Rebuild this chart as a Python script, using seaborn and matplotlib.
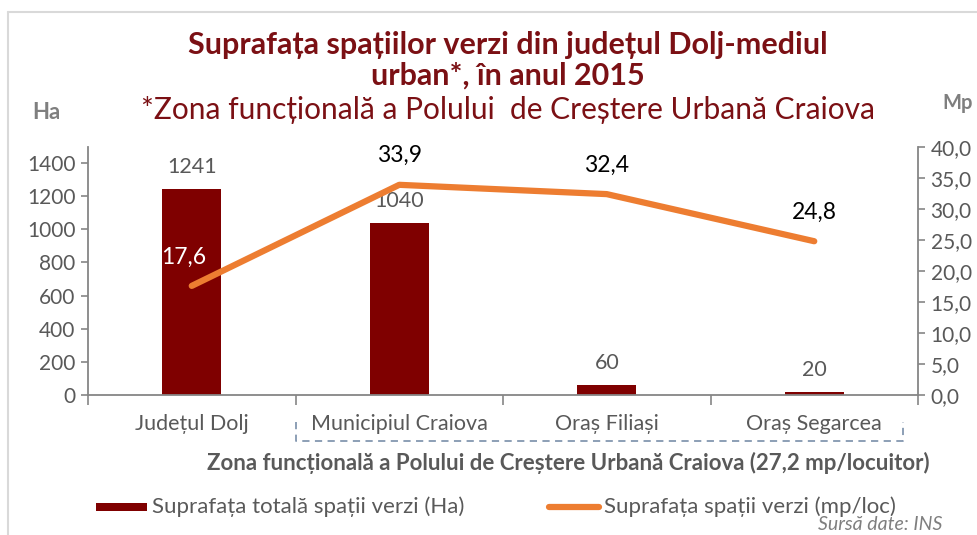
import matplotlib
matplotlib.use("Agg")
import matplotlib.pyplot as plt
from matplotlib.patches import Rectangle
from matplotlib.lines import Line2D
import seaborn as sns
import pandas as pd

# Data
categories = ["Județul Dolj", "Municipiul Craiova", "Oraș Filiași", "Oraș Segarcea"]
area_ha = [1241, 1040, 60, 20]
area_mp_per_loc = [17.6, 33.9, 32.4, 24.8]
left_ticks = [0, 200, 400, 600, 800, 1000, 1200, 1400]
right_ticks = [0, 5, 10, 15, 20, 25, 30, 35, 40]

sns.set_theme(style="white")
FONT = ["Lato", "DejaVu Sans"]
plt.rcParams["font.family"] = FONT

BAR = "#7F0000"
LINE = "#ED7D31"
GRAY = "#595959"
AXIS = "#868686"
TITLE = "#7B1014"

W, H = 977, 535
fig = plt.figure(figsize=(W / 100, H / 100), dpi=100)

def fx(px):
    return px / W

def fy(py):
    return 1 - py / H

ax = fig.add_axes([fx(88), fy(395), fx(918) - fx(88), fy(147) - fy(395)])

df = pd.DataFrame({"cat": categories, "ha": area_ha, "mp": area_mp_per_loc})
sns.barplot(data=df, x="cat", y="ha", ax=ax, color=BAR, width=0.285,
            saturation=1, edgecolor="none")
ax.set_ylim(0, 1497)
ax.set_xlim(-0.5, len(categories) - 0.5)
ax.set_yticks(left_ticks)
ax.set_yticklabels([str(t) for t in left_ticks])
ax.set_xlabel("")
ax.set_ylabel("")
ax.set_xticks([i - 0.5 for i in range(len(categories) + 1)], minor=False)
ax.set_xticklabels([])
ax.tick_params(axis="x", direction="out", length=7, width=1.2, color=AXIS, bottom=True)
ax.tick_params(axis="y", direction="out", length=5, width=1.2, color=AXIS, left=True,
               labelsize=15, labelcolor=GRAY, pad=4)
for s in ["top", "right"]:
    ax.spines[s].set_visible(False)
for s in ["left", "bottom"]:
    ax.spines[s].set_color(AXIS)
    ax.spines[s].set_linewidth(1.3)

for i, (c, v) in enumerate(zip(categories, area_ha)):
    ax.annotate(str(v), (i, v), xytext=(0, 22), textcoords="offset pixels",
                ha="center", va="center", fontsize=15.5, color=GRAY)
    ax.text(i, -0.115, c, transform=ax.get_xaxis_transform(), ha="center",
            va="center", fontsize=15.5, color=GRAY)

ax2 = ax.twinx()
sns.pointplot(x=categories, y=area_mp_per_loc, ax=ax2, color=LINE, markers="",
              linestyles="-", linewidth=4.5)
for ln in ax2.lines:
    ln.set_solid_capstyle("round")
    ln.set_solid_joinstyle("round")
ax2.set_xlim(-0.5, len(categories) - 0.5)
ax2.set_ylim(0, 40)
ax2.set_yticks(right_ticks)
ax2.set_yticklabels([f"{t:.1f}".replace(".", ",") for t in right_ticks])
ax2.tick_params(axis="y", direction="out", length=5, width=1.2, color=AXIS, right=True,
                labelsize=15, labelcolor=GRAY, pad=4)
for s in ["top", "left", "bottom"]:
    ax2.spines[s].set_visible(False)
ax2.spines["right"].set_color(AXIS)
ax2.spines["right"].set_linewidth(1.3)
ax2.set_ylabel("")

for i, v in enumerate(area_mp_per_loc):
    col = "white" if i == 0 else "black"
    dx = -8 if i == 0 else 0
    ax2.annotate(f"{v:.1f}".replace(".", ","), (i, v), xytext=(dx, 29),
                 textcoords="offset pixels", ha="center", va="center",
                 fontsize=16.5, color=col)

# Frame around the chart area
fig.add_artist(Line2D([fx(8), fx(8)], [fy(12), 0], color="#D9D9D9", lw=1.5,
                      transform=fig.transFigure))
fig.add_artist(Line2D([fx(8), 1], [fy(12), fy(12)], color="#D9D9D9", lw=1.5,
                      transform=fig.transFigure))

# Titles
fig.text(fx(508), fy(45), "Suprafața spațiilor verzi din județul Dolj-mediul",
         ha="center", va="center", fontsize=22, fontweight="bold", color=TITLE)
fig.text(fx(508), fy(76), "urban*, în anul 2015",
         ha="center", va="center", fontsize=22, fontweight="bold", color=TITLE)
fig.text(fx(508), fy(110), "*Zona funcțională a Polului  de Creștere Urbană Craiova",
         ha="center", va="center", fontsize=21.5, color=TITLE)

fig.text(fx(46), fy(112), "Ha", ha="center", va="center", fontsize=16,
         fontweight="bold", color="#7F7F7F")
fig.text(fx(942), fy(103), "Mp", ha="left", va="center", fontsize=14.5,
         fontweight="bold", color="#7F7F7F")

# Dashed bracket around the functional zone
zx0, zx1, zy0, zy1 = fx(296), fx(903), fy(422), fy(441)
fig.add_artist(Line2D([zx0, zx0, zx1, zx1], [zy0, zy1, zy1, zy0], color="#8497B0",
                      lw=1.3, ls=(0, (4, 3)), transform=fig.transFigure))
fig.text(fx(568), fy(463),
         "Zona funcțională a Polului de Creștere Urbană Craiova (27,2 mp/locuitor)",
         ha="center", va="center", fontsize=16, fontweight="bold", color=GRAY)

# Legend
fig.add_artist(Rectangle((fx(96), fy(511)), fx(147) - fx(96), fy(503) - fy(511),
                         transform=fig.transFigure, color=BAR, lw=0))
fig.text(fx(152), fy(507), "Suprafața totală spații verzi (Ha)", ha="left",
         va="center", fontsize=16, color=GRAY)
fig.add_artist(Line2D([fx(549), fx(599)], [fy(507), fy(507)], color=LINE, lw=4.5,
                      solid_capstyle="round", transform=fig.transFigure))
fig.text(fx(604), fy(507), "Suprafața spații verzi (mp/loc)", ha="left",
         va="center", fontsize=16, color=GRAY)
fig.text(fx(818), fy(525), "Sursă date: INS", ha="left", va="center",
         fontsize=14, style="italic", color="#7F7F7F")

fig.savefig("out.png", dpi=100, facecolor="white")
